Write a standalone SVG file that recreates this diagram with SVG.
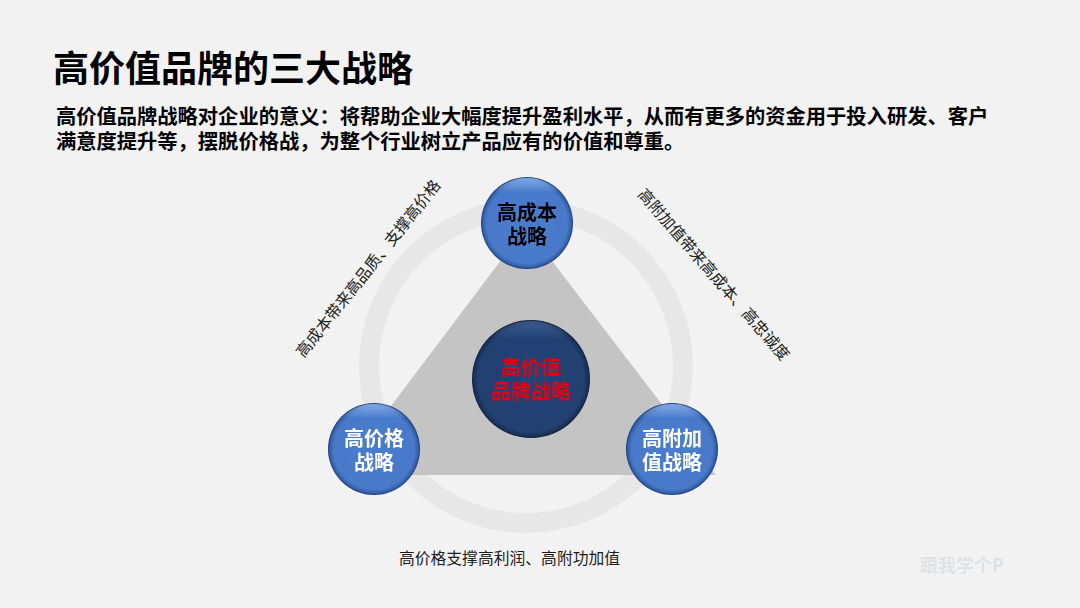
<svg xmlns="http://www.w3.org/2000/svg" width="1080" height="608" viewBox="0 0 1080 608">
<style>
text{font-family:"Noto Sans CJK SC","Liberation Sans",sans-serif}
.title{font-size:36px;font-weight:700;fill:#000}
.sub{font-size:20.28px;font-weight:700;fill:#000}
.lab{font-size:15.8px;fill:#1c1c1c;text-anchor:middle;dominant-baseline:central}
.nt{font-size:20px;font-weight:700;text-anchor:middle}
</style>
<defs>
<radialGradient id="blue" cx=".5" cy=".5" r=".5"><stop offset="0" stop-color="#4a7dcc"/><stop offset=".88" stop-color="#4879c8"/><stop offset=".96" stop-color="#3460a8"/><stop offset="1" stop-color="#1c3c78"/></radialGradient>
<radialGradient id="navy" cx=".5" cy=".5" r=".5"><stop offset="0" stop-color="#234579"/><stop offset=".9" stop-color="#213f70"/><stop offset=".97" stop-color="#1a3058"/><stop offset="1" stop-color="#101f3a"/></radialGradient>
<linearGradient id="rim" x1="0" y1="0" x2="0" y2="1"><stop offset="0" stop-color="#8fb6ee" stop-opacity=".85"/><stop offset=".16" stop-color="#8fb6ee" stop-opacity="0"/></linearGradient>
<filter id="soft" x="-5%" y="-5%" width="110%" height="110%"><feGaussianBlur stdDeviation=".45"/></filter>
<filter id="wm" x="-10%" y="-30%" width="120%" height="160%"><feGaussianBlur stdDeviation=".7"/></filter>
</defs>
<rect width="1080" height="608" fill="#f2f2f2"/>
<text class="title" x="53" y="82">高价值品牌的三大战略</text>
<text class="sub" x="56" y="124">高价值品牌战略对企业的意义：将帮助企业大幅度提升盈利水平，从而有更多的资金用于投入研发、客户</text>
<text class="sub" x="56" y="149">满意度提升等，摆脱价格战，为整个行业树立产品应有的价值和尊重。</text>
<g id="ring"><circle cx="526" cy="366" r="157" fill="none" stroke="#e7e7e7" stroke-width="20"/></g>
<g id="connectors"><polygon points="526,227 339,475 716,475" fill="#c4c4c4"/></g>
<g id="node-top" filter="url(#soft)"><circle cx="527" cy="223" r="46" fill="url(#blue)"/><circle cx="527" cy="223" r="45" fill="url(#rim)"/><text class="nt" fill="#000"><tspan x="527" y="220">高成本</tspan><tspan x="527" y="244">战略</tspan></text></g>
<g id="node-left" filter="url(#soft)"><circle cx="374" cy="449" r="46" fill="url(#blue)"/><circle cx="374" cy="449" r="45" fill="url(#rim)"/><text class="nt" fill="#fff"><tspan x="374" y="446">高价格</tspan><tspan x="374" y="470">战略</tspan></text></g>
<g id="node-right" filter="url(#soft)"><circle cx="672" cy="449" r="46" fill="url(#blue)"/><circle cx="672" cy="449" r="45" fill="url(#rim)"/><text class="nt" fill="#fff"><tspan x="672" y="446">高附加</tspan><tspan x="672" y="470">值战略</tspan></text></g>
<g id="node-center" filter="url(#soft)"><circle cx="531" cy="379" r="59" fill="url(#navy)"/><circle cx="531" cy="379" r="58" fill="url(#rim)" opacity=".3"/><text class="nt" fill="#e8000f"><tspan x="531" y="375">高价值</tspan><tspan x="531" y="399">品牌战略</tspan></text></g>
<text class="lab" transform="translate(367.5 268) rotate(-51.5)">高成本带来高品质、支撑高价格</text>
<text class="lab" transform="translate(714.5 274) rotate(49)">高附加值带来高成本、高忠诚度</text>
<text class="lab" x="509.5" y="557">高价格支撑高利润、高附功加值</text>
<text x="920" y="572" font-size="18" font-weight="700" fill="#dfe2e5" filter="url(#wm)">跟我学个P</text>
</svg>
